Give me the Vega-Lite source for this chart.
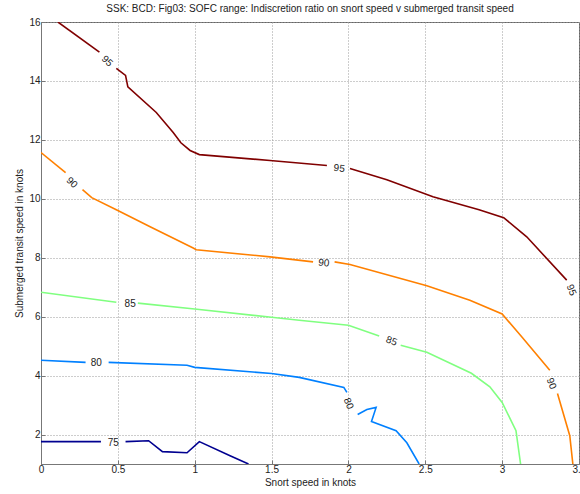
{
  "$schema": "https://vega.github.io/schema/vega-lite/v6.json",
  "autosize": {"type": "none"},
  "padding": {"left": 41, "top": 22, "right": 1, "bottom": 30},
  "width": 538,
  "height": 442,
  "background": "white",
  "title": {"text": "SSK: BCD: Fig03: SOFC range: Indiscretion ratio on snort speed v submerged transit speed", "fontSize": 10, "fontWeight": "normal", "font": "Liberation Sans", "color": "#222", "offset": 3},
  "config": {
    "view": {"stroke": "#666", "strokeWidth": 1},
    "axis": {"labelFont": "Liberation Sans", "titleFont": "Liberation Sans", "labelFontSize": 10, "titleFontSize": 10, "titleFontWeight": "normal", "labelColor": "#222", "titleColor": "#222", "grid": true, "gridDash": [1, 2], "gridColor": "#9a9a9a", "gridOpacity": 1, "ticks": true, "tickSize": -4, "tickColor": "#777", "domainColor": "#777", "labelFlush": false, "labelOverlap": false}
  },
  "datasets": {
    "contours": [
      {"level": 95, "seg": "95a", "i": 1, "x": 0.11, "y": 16.0},
      {"level": 95, "seg": "95a", "i": 2, "x": 0.38, "y": 14.98},
      {"level": 95, "seg": "95b", "i": 3, "x": 0.49, "y": 14.43},
      {"level": 95, "seg": "95b", "i": 4, "x": 0.55, "y": 14.19},
      {"level": 95, "seg": "95b", "i": 5, "x": 0.565, "y": 13.8},
      {"level": 95, "seg": "95b", "i": 6, "x": 0.75, "y": 12.93},
      {"level": 95, "seg": "95b", "i": 7, "x": 0.86, "y": 12.25},
      {"level": 95, "seg": "95b", "i": 8, "x": 0.91, "y": 11.9},
      {"level": 95, "seg": "95b", "i": 9, "x": 0.97, "y": 11.64},
      {"level": 95, "seg": "95b", "i": 10, "x": 1.03, "y": 11.5},
      {"level": 95, "seg": "95b", "i": 11, "x": 1.49, "y": 11.3},
      {"level": 95, "seg": "95b", "i": 12, "x": 1.86, "y": 11.13},
      {"level": 95, "seg": "95c", "i": 13, "x": 2.01, "y": 11.03},
      {"level": 95, "seg": "95c", "i": 14, "x": 2.25, "y": 10.65},
      {"level": 95, "seg": "95c", "i": 15, "x": 2.55, "y": 10.07},
      {"level": 95, "seg": "95c", "i": 16, "x": 2.85, "y": 9.63},
      {"level": 95, "seg": "95c", "i": 17, "x": 3.01, "y": 9.36},
      {"level": 95, "seg": "95c", "i": 18, "x": 3.16, "y": 8.71},
      {"level": 95, "seg": "95c", "i": 19, "x": 3.42, "y": 7.24},
      {"level": 90, "seg": "90a", "i": 1, "x": 0.0, "y": 11.57},
      {"level": 90, "seg": "90a", "i": 2, "x": 0.16, "y": 10.89},
      {"level": 90, "seg": "90b", "i": 3, "x": 0.27, "y": 10.31},
      {"level": 90, "seg": "90b", "i": 4, "x": 0.33, "y": 10.04},
      {"level": 90, "seg": "90b", "i": 5, "x": 0.49, "y": 9.63},
      {"level": 90, "seg": "90b", "i": 6, "x": 0.71, "y": 9.05},
      {"level": 90, "seg": "90b", "i": 7, "x": 0.99, "y": 8.33},
      {"level": 90, "seg": "90b", "i": 8, "x": 1.01, "y": 8.27},
      {"level": 90, "seg": "90b", "i": 9, "x": 1.49, "y": 8.03},
      {"level": 90, "seg": "90b", "i": 10, "x": 1.77, "y": 7.86},
      {"level": 90, "seg": "90c", "i": 11, "x": 1.91, "y": 7.86},
      {"level": 90, "seg": "90c", "i": 12, "x": 2.01, "y": 7.77},
      {"level": 90, "seg": "90c", "i": 13, "x": 2.51, "y": 7.05},
      {"level": 90, "seg": "90c", "i": 14, "x": 2.79, "y": 6.56},
      {"level": 90, "seg": "90c", "i": 15, "x": 3.0, "y": 6.09},
      {"level": 90, "seg": "90c", "i": 16, "x": 3.13, "y": 5.3},
      {"level": 90, "seg": "90c", "i": 17, "x": 3.31, "y": 4.18},
      {"level": 90, "seg": "90d", "i": 18, "x": 3.36, "y": 3.39},
      {"level": 90, "seg": "90d", "i": 19, "x": 3.44, "y": 1.96},
      {"level": 90, "seg": "90d", "i": 20, "x": 3.46, "y": 1.0},
      {"level": 85, "seg": "85a", "i": 1, "x": 0.0, "y": 6.83},
      {"level": 85, "seg": "85a", "i": 2, "x": 0.49, "y": 6.49},
      {"level": 85, "seg": "85b", "i": 3, "x": 0.63, "y": 6.46},
      {"level": 85, "seg": "85b", "i": 4, "x": 1.0, "y": 6.26},
      {"level": 85, "seg": "85b", "i": 5, "x": 1.5, "y": 5.98},
      {"level": 85, "seg": "85b", "i": 6, "x": 1.68, "y": 5.88},
      {"level": 85, "seg": "85b", "i": 7, "x": 2.0, "y": 5.71},
      {"level": 85, "seg": "85b", "i": 8, "x": 2.2, "y": 5.34},
      {"level": 85, "seg": "85c", "i": 9, "x": 2.34, "y": 5.03},
      {"level": 85, "seg": "85c", "i": 10, "x": 2.51, "y": 4.79},
      {"level": 85, "seg": "85c", "i": 11, "x": 2.8, "y": 4.08},
      {"level": 85, "seg": "85c", "i": 12, "x": 2.92, "y": 3.62},
      {"level": 85, "seg": "85c", "i": 13, "x": 3.0, "y": 3.09},
      {"level": 85, "seg": "85c", "i": 14, "x": 3.09, "y": 2.13},
      {"level": 85, "seg": "85c", "i": 15, "x": 3.12, "y": 1.0},
      {"level": 80, "seg": "80a", "i": 1, "x": 0.0, "y": 4.52},
      {"level": 80, "seg": "80a", "i": 2, "x": 0.29, "y": 4.45},
      {"level": 80, "seg": "80b", "i": 3, "x": 0.44, "y": 4.45},
      {"level": 80, "seg": "80b", "i": 4, "x": 0.95, "y": 4.35},
      {"level": 80, "seg": "80b", "i": 5, "x": 1.0, "y": 4.28},
      {"level": 80, "seg": "80b", "i": 6, "x": 1.5, "y": 4.07},
      {"level": 80, "seg": "80b", "i": 7, "x": 1.68, "y": 3.94},
      {"level": 80, "seg": "80b", "i": 8, "x": 1.97, "y": 3.6},
      {"level": 80, "seg": "80b", "i": 9, "x": 1.99, "y": 3.43},
      {"level": 80, "seg": "80c", "i": 10, "x": 2.06, "y": 2.68},
      {"level": 80, "seg": "80c", "i": 11, "x": 2.12, "y": 2.85},
      {"level": 80, "seg": "80c", "i": 12, "x": 2.18, "y": 2.92},
      {"level": 80, "seg": "80c", "i": 13, "x": 2.15, "y": 2.44},
      {"level": 80, "seg": "80c", "i": 14, "x": 2.31, "y": 2.13},
      {"level": 80, "seg": "80c", "i": 15, "x": 2.38, "y": 1.72},
      {"level": 80, "seg": "80c", "i": 16, "x": 2.46, "y": 1.0},
      {"level": 75, "seg": "75a", "i": 1, "x": 0.0, "y": 1.76},
      {"level": 75, "seg": "75a", "i": 2, "x": 0.39, "y": 1.76},
      {"level": 75, "seg": "75b", "i": 3, "x": 0.55, "y": 1.76},
      {"level": 75, "seg": "75b", "i": 4, "x": 0.7, "y": 1.79},
      {"level": 75, "seg": "75b", "i": 5, "x": 0.79, "y": 1.42},
      {"level": 75, "seg": "75b", "i": 6, "x": 0.95, "y": 1.38},
      {"level": 75, "seg": "75b", "i": 7, "x": 1.03, "y": 1.76},
      {"level": 75, "seg": "75b", "i": 8, "x": 1.23, "y": 1.28},
      {"level": 75, "seg": "75b", "i": 9, "x": 1.35, "y": 1.0}
    ],
    "labels": [
      {"level": 95, "x": 0.43, "y": 14.67},
      {"level": 95, "x": 1.94, "y": 11.03},
      {"level": 95, "x": 3.45, "y": 6.9},
      {"level": 90, "x": 0.2, "y": 10.55},
      {"level": 90, "x": 1.84, "y": 7.82},
      {"level": 90, "x": 3.32, "y": 3.73},
      {"level": 85, "x": 0.58, "y": 6.43},
      {"level": 85, "x": 2.28, "y": 5.17},
      {"level": 80, "x": 0.36, "y": 4.42},
      {"level": 80, "x": 2.0, "y": 3.05},
      {"level": 75, "x": 0.47, "y": 1.72}
    ]
  },
  "encoding": {
    "x": {"field": "x", "type": "quantitative", "scale": {"domain": [0, 3.5], "nice": false, "zero": false}, "axis": {"values": [0, 0.5, 1, 1.5, 2, 2.5, 3, 3.5], "format": "~g", "title": "Snort speed in knots", "labelPadding": 4, "titlePadding": 3}},
    "y": {"field": "y", "type": "quantitative", "scale": {"domain": [1, 16], "nice": false, "zero": false}, "axis": {"values": [2, 4, 6, 8, 10, 12, 14, 16], "format": "~g", "title": "Submerged transit speed in knots", "labelPadding": 5, "titlePadding": 4}}
  },
  "layer": [
    {
      "data": {"name": "contours"},
      "mark": {"type": "line", "clip": true, "strokeWidth": 1.6},
      "encoding": {
        "detail": {"field": "seg", "type": "nominal"},
        "order": {"field": "i", "type": "quantitative"},
        "color": {"field": "level", "type": "nominal", "scale": {"domain": [75, 80, 85, 90, 95], "range": ["#000090", "#0080ff", "#80ff80", "#ff8000", "#800000"]}, "legend": null}
      }
    },
    {
      "data": {"name": "labels"},
      "transform": [{"filter": "datum.level <= 85 && datum.x < 1"}],
      "mark": {"type": "text", "font": "Liberation Sans", "fontSize": 10, "color": "#222", "angle": 0},
      "encoding": {"text": {"field": "level", "type": "nominal"}}
    },
    {
      "data": {"name": "labels"},
      "transform": [{"filter": "datum.level >= 90 && datum.x > 1 && datum.x < 3"}],
      "mark": {"type": "text", "font": "Liberation Sans", "fontSize": 10, "color": "#222", "angle": 6},
      "encoding": {"text": {"field": "level", "type": "nominal"}}
    },
    {
      "data": {"name": "labels"},
      "transform": [{"filter": "datum.level >= 90 && datum.x < 0.5"}],
      "mark": {"type": "text", "font": "Liberation Sans", "fontSize": 10, "color": "#222", "angle": 44},
      "encoding": {"text": {"field": "level", "type": "nominal"}}
    },
    {
      "data": {"name": "labels"},
      "transform": [{"filter": "datum.level == 85 && datum.x > 1"}],
      "mark": {"type": "text", "font": "Liberation Sans", "fontSize": 10, "color": "#222", "angle": 20},
      "encoding": {"text": {"field": "level", "type": "nominal"}}
    },
    {
      "data": {"name": "labels"},
      "transform": [{"filter": "datum.x > 3 || (datum.level == 80 && datum.x > 1)"}],
      "mark": {"type": "text", "font": "Liberation Sans", "fontSize": 10, "color": "#222", "angle": 68},
      "encoding": {"text": {"field": "level", "type": "nominal"}}
    }
  ]
}
